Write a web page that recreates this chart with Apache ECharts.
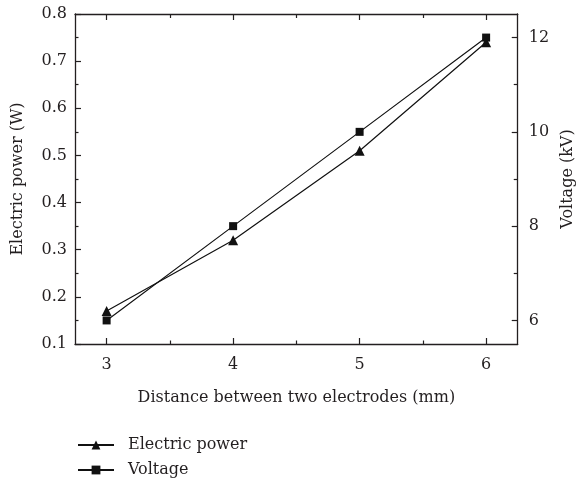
<!DOCTYPE html>
<html>
<head>
<meta charset="utf-8">
<script src="https://cdn.jsdelivr.net/npm/echarts@6/dist/echarts.min.js"></script>
<style>
  html, body { margin: 0; padding: 0; background: #fff; }
  #chart { width: 584px; height: 481px; }
</style>
</head>
<body>
<div id="chart"></div>
<script>
// Electrode gap (mm) against electric power (W) and applied voltage (kV)
const distances = [3, 4, 5, 6];
const powerValues = [0.17, 0.32, 0.51, 0.74];
const voltageValues = [6, 8, 10, 12];

const xMajorTicks = [3, 4, 5, 6];
const xMinorTicks = [3.5, 4.5, 5.5];
const voltMajorTicks = [6, 8, 10, 12];
const voltMinorTicks = [7, 9, 11];

const INK = '#231f20';
const FONT = 'DejaVu Serif';
const FS = 16;

const axisLine = { show: true, onZero: false, lineStyle: { color: INK, width: 1.3 } };
const noLine = { show: false };
const label = { color: INK, fontFamily: FONT, fontSize: FS };

function tickAxis(extra) {
  return Object.assign({
    type: 'value',
    splitLine: { show: false },
    axisLabel: { show: false },
    axisLine: noLine
  }, extra);
}

const chart = echarts.init(document.getElementById('chart'), null, { renderer: 'canvas' });

chart.setOption({
  animation: false,
  backgroundColor: '#fff',
  grid: { left: 75, right: 61, top: 14, bottom: 137 },
  legend: {
    orient: 'vertical',
    left: 77,
    top: 437,
    height: 80,
    padding: 0,
    itemWidth: 36,
    itemHeight: 11,
    itemGap: 9,
    textStyle: { color: INK, fontFamily: FONT, fontSize: FS, padding: [0, 0, 0, 9] },
    data: ['Electric power', 'Voltage']
  },
  xAxis: [
    {
      type: 'value', min: 2.75, max: 6.25, position: 'bottom',
      name: 'Distance between two electrodes (mm)',
      nameLocation: 'middle', nameGap: 46,
      nameTextStyle: label,
      axisLine: axisLine,
      axisTick: { show: true, inside: true, length: 6, customValues: xMajorTicks, lineStyle: { color: INK, width: 1.2 } },
      axisLabel: Object.assign({ margin: 13, customValues: xMajorTicks }, label),
      splitLine: { show: false }
    },
    tickAxis({
      min: 2.75, max: 6.25, position: 'bottom',
      axisTick: { show: true, inside: true, length: 3.5, customValues: xMinorTicks, lineStyle: { color: INK, width: 1.2 } }
    }),
    tickAxis({
      min: 2.75, max: 6.25, position: 'top',
      axisLine: axisLine,
      axisTick: { show: true, inside: true, length: 6, customValues: xMajorTicks, lineStyle: { color: INK, width: 1.2 } }
    }),
    tickAxis({
      min: 2.75, max: 6.25, position: 'top',
      axisTick: { show: true, inside: true, length: 4, customValues: xMinorTicks, lineStyle: { color: INK, width: 1.2 } }
    })
  ],
  yAxis: [
    {
      type: 'value', min: 0.1, max: 0.8, interval: 0.1, position: 'left',
      name: 'Electric power (W)',
      nameLocation: 'middle', nameGap: 49, nameRotate: 90,
      nameTextStyle: label,
      axisLine: axisLine,
      axisTick: { show: true, inside: true, length: 6, lineStyle: { color: INK, width: 1.2 } },
      minorTick: { show: true, splitNumber: 2, length: 3.5, lineStyle: { color: INK, width: 1.2 } },
      axisLabel: Object.assign({ margin: 8, formatter: v => v.toFixed(1) }, label),
      splitLine: { show: false }
    },
    {
      type: 'value', min: 5.5, max: 12.5, position: 'right',
      name: 'Voltage (kV)',
      nameLocation: 'middle', nameGap: 41, nameRotate: 90,
      nameTextStyle: label,
      axisLine: axisLine,
      axisTick: { show: true, inside: true, length: 6, customValues: voltMajorTicks, lineStyle: { color: INK, width: 1.2 } },
      axisLabel: Object.assign({ margin: 11, customValues: voltMajorTicks }, label),
      splitLine: { show: false }
    },
    tickAxis({
      min: 5.5, max: 12.5, position: 'right',
      axisTick: { show: true, inside: true, length: 4, customValues: voltMinorTicks, lineStyle: { color: INK, width: 1.2 } }
    })
  ],
  series: [
    {
      name: 'Electric power', type: 'line',
      xAxisIndex: 0, yAxisIndex: 0,
      data: distances.map((d, i) => [d, powerValues[i]]),
      symbol: 'triangle', symbolSize: 10,
      itemStyle: { color: '#111' },
      lineStyle: { color: '#111', width: 1.2 }
    },
    {
      name: 'Voltage', type: 'line',
      xAxisIndex: 0, yAxisIndex: 1,
      data: distances.map((d, i) => [d, voltageValues[i]]),
      symbol: 'rect', symbolSize: 8,
      itemStyle: { color: '#111' },
      lineStyle: { color: '#111', width: 1.2 }
    }
  ]
});
</script>
</body>
</html>
